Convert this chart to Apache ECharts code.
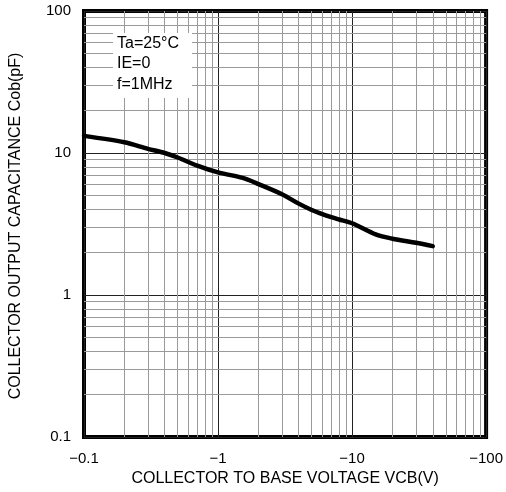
<!DOCTYPE html>
<html>
<head>
<meta charset="utf-8">
<script src="https://cdn.jsdelivr.net/npm/echarts@6/dist/echarts.min.js"></script>
<style>html,body{margin:0;padding:0;background:#fff}#c{width:506px;height:492px}</style>
</head>
<body>
<div id="c"></div>
<script>
// Data (|VCB| in volts, Cob in pF)
const vcb = [0.1, 0.2, 0.3, 0.4, 0.5, 0.7, 1, 1.5, 2, 3, 4, 5, 6, 7, 8, 10, 15, 20, 30, 40];
const cob = [13.2, 11.9, 10.7, 10.0, 9.3, 8.15, 7.3, 6.7, 6.05, 5.13, 4.4, 3.97, 3.71, 3.53, 3.4, 3.2, 2.67, 2.49, 2.33, 2.21];
const xTicks = [0.1, 1, 10, 100];
const yTicks = [0.1, 1, 10, 100];
const notes = ['Ta=25°C', 'IE=0', 'f=1MHz'];
const xTitle = 'COLLECTOR TO BASE VOLTAGE VCB(V)';
const yTitle = 'COLLECTOR OUTPUT CAPACITANCE Cob(pF)';

const minorX = [], minorY = [];
for (let d = 0; d < xTicks.length - 1; d++) {
  for (let k = 2; k <= 9; k++) {
    minorX.push({xAxis: +(xTicks[d] * k).toPrecision(3)});
    minorY.push({yAxis: +(yTicks[d] * k).toPrecision(3)});
  }
}

const font = 'Arial, "Liberation Sans", sans-serif';
const chart = echarts.init(document.getElementById('c'));
chart.setOption({
  animation: false,
  backgroundColor: '#fff',
  grid: {left: 84, right: 16.5, top: 11, bottom: 55, show: true, borderColor: '#000', borderWidth: 4, backgroundColor: 'transparent'},
  xAxis: {
    type: 'log', logBase: 10, min: 0.1, max: 100, interval: 1,
    axisLine: {show: false}, axisTick: {show: false},
    splitLine: {show: true, lineStyle: {color: '#222', width: 1}},
    axisLabel: {fontSize: 15, fontFamily: font, color: '#000', margin: 14,
      formatter: v => '\u2212' + v},
    name: xTitle, nameLocation: 'middle', nameGap: 26,
    nameTextStyle: {fontSize: 16, fontFamily: font, color: '#000', verticalAlign: 'top'}
  },
  yAxis: {
    type: 'log', logBase: 10, min: 0.1, max: 100, interval: 1,
    axisLine: {show: false}, axisTick: {show: false},
    splitLine: {show: true, lineStyle: {color: '#222', width: 1}},
    axisLabel: {fontSize: 15, fontFamily: font, color: '#000', margin: 13,
      formatter: v => String(v)}
  },
  graphic: [
    {type: 'rect', shape: {x: 113, y: 33, width: 79, height: 65}, style: {fill: '#fff'}, z: 50},
    {type: 'text', left: 117, top: 33, z: 51,
      style: {text: notes.join('\n'), font: '16px ' + font, fill: '#000', lineHeight: 20.5}},
    {type: 'text', z: 51, x: 16, y: 226, rotation: Math.PI / 2,
      style: {text: yTitle, font: '16px ' + font, fill: '#000', align: 'center', verticalAlign: 'middle'}}
  ],
  series: [
    {type: 'line', data: [], z: 1, silent: true,
      markLine: {silent: true, symbol: 'none', label: {show: false}, animation: false,
        lineStyle: {color: '#9a9a9a', width: 1, type: 'solid'},
        data: minorX.concat(minorY)}},
    {type: 'line', z: 5, data: vcb.map((x, i) => [x, cob[i]]), smooth: 0.3,
      showSymbol: false, lineStyle: {color: '#000', width: 4.5, cap: 'round', join: 'round'}}
  ]
});
</script>
</body>
</html>
